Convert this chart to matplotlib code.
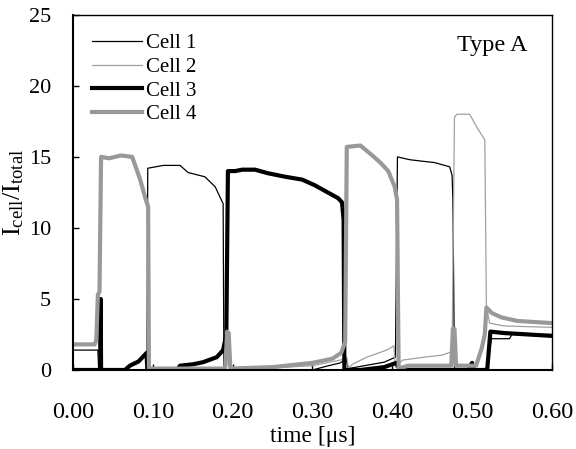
import matplotlib
matplotlib.use("Agg")
import matplotlib.pyplot as plt

# cell current share (%) of the total, type A module
t1 = [0, 0.031, 0.032, 0.0925, 0.0935, 0.113, 0.134, 0.144, 0.165, 0.178, 0.188, 0.189,
      0.30, 0.32, 0.335, 0.342, 0.345, 0.37, 0.39, 0.404, 0.4065, 0.422, 0.437, 0.453,
      0.472, 0.475, 0.476, 0.478, 0.515, 0.52, 0.524, 0.547, 0.55, 0.60]
v1 = [1.4, 1.4, 0, 0, 14.2, 14.4, 14.4, 13.9, 13.6, 12.9, 11.7, 0,
      0, 0.3, 0.5, 0.8, 0.1, 0.35, 0.55, 0.9, 15.0, 14.8, 14.7, 14.6,
      14.3, 13.7, 12.0, 0, 0, 0.3, 2.2, 2.2, 2.5, 2.5]

t2 = [0, 0.20, 0.30, 0.335, 0.343, 0.345, 0.35, 0.368, 0.393, 0.402, 0.404, 0.413,
      0.44, 0.463, 0.475, 0.478, 0.481, 0.497, 0.507, 0.516, 0.518, 0.522, 0.54, 0.60]
v2 = [0, 0, 0.3, 0.7, 0.9, 0.1, 0.4, 0.9, 1.4, 1.7, 0.2, 0.7,
      0.9, 1.05, 1.3, 17.8, 18.0, 18.0, 17.0, 16.2, 4.6, 3.3, 3.1, 3.0]

t3 = [0, 0.034, 0.0345, 0.035, 0.065, 0.071, 0.082, 0.087, 0.092, 0.093, 0.13, 0.134,
      0.15, 0.163, 0.18, 0.188, 0.192, 0.194, 0.203, 0.212, 0.228, 0.244, 0.266, 0.287,
      0.303, 0.319, 0.332, 0.337, 0.339, 0.34, 0.36, 0.39, 0.405, 0.41, 0.495, 0.50,
      0.502, 0.519, 0.523, 0.54, 0.60]
v3 = [0, 0, 5.0, 0, 0, 0.3, 0.6, 0.9, 1.2, 0, 0, 0.3,
      0.4, 0.55, 0.9, 1.4, 2.5, 14.0, 14.0, 14.1, 14.1, 13.85, 13.6, 13.4,
      13.0, 12.5, 12.1, 11.8, 10.6, 0, 0, 0.2, 0.5, 0, 0, 0.5,
      0, 0, 2.7, 2.6, 2.4]

t4 = [0, 0.027, 0.029, 0.031, 0.033, 0.035, 0.045, 0.06, 0.074, 0.084,
      0.091, 0.094, 0.095, 0.19, 0.191, 0.193, 0.195, 0.197, 0.25, 0.30,
      0.325, 0.336, 0.341, 0.343, 0.36, 0.375, 0.385, 0.395, 0.403, 0.406,
      0.408, 0.42, 0.474, 0.476, 0.478, 0.48, 0.505, 0.512, 0.516, 0.518,
      0.525, 0.537, 0.557, 0.60]
v4 = [1.8, 1.8, 2.1, 5.3, 5.5, 15.0, 14.9, 15.1, 15.0, 13.4,
      12.0, 11.5, 0.1, 0.1, 0.3, 2.7, 2.6, 0.1, 0.2, 0.5,
      0.8, 1.2, 2.0, 15.7, 15.8, 15.1, 14.6, 14.0, 12.9, 12.0,
      0.1, 0.3, 0.3, 2.9, 2.9, 0.3, 0.3, 1.5, 2.5, 4.4,
      4.0, 3.7, 3.45, 3.3]

xticks = [0.0, 0.1, 0.2, 0.3, 0.4, 0.5, 0.6]
yticks = [0, 5, 10, 15, 20, 25]

plt.rcParams['font.family'] = ['Liberation Serif', 'DejaVu Serif']
plt.rcParams['mathtext.fontset'] = 'custom'
plt.rcParams['mathtext.rm'] = 'Liberation Serif'
plt.rcParams['font.size'] = 16

fig = plt.figure(figsize=(5.76, 4.49), dpi=100)
ax = fig.add_axes([0.127, 0.176, 0.831, 0.791])

ax.plot(t1, v1, color='black', lw=0.9, label='Cell 1')
ax.plot(t2, v2, color='#a0a0a0', lw=0.9, label='Cell 2')
ax.plot(t3, v3, color='black', lw=3.0, label='Cell 3')
ax.plot(t4, v4, color='#999999', lw=3.0, label='Cell 4')

ax.set_xlim(0, 0.6)
ax.set_ylim(0, 25)
ax.set_xticks(xticks)
ax.set_xticklabels(['%.2f' % x for x in xticks], fontsize=17.5)
ax.set_yticks(yticks)
ax.tick_params(direction='in', length=4, width=1)
ax.tick_params(axis='y', pad=16)
ax.tick_params(axis='x', pad=23)
ax.set_xlabel('time [\u03bcs]', labelpad=2, fontsize=17)
ax.set_ylabel(r'$\mathregular{I_{cell}/I_{total}}$', labelpad=2, fontsize=19)

for side in ['left', 'bottom']:
    ax.spines[side].set_linewidth(1.5)
for side in ['top', 'right']:
    ax.spines[side].set_linewidth(1.0)

ax.legend(loc='upper left', frameon=False, fontsize=15, handlelength=2.4,
          handletextpad=0.2, labelspacing=0.2, borderaxespad=0.5)
ax.text(0.95, 0.915, 'Type A', transform=ax.transAxes, ha='right', va='center',
        fontsize=17.5)

fig.savefig('out.png', dpi=100)
